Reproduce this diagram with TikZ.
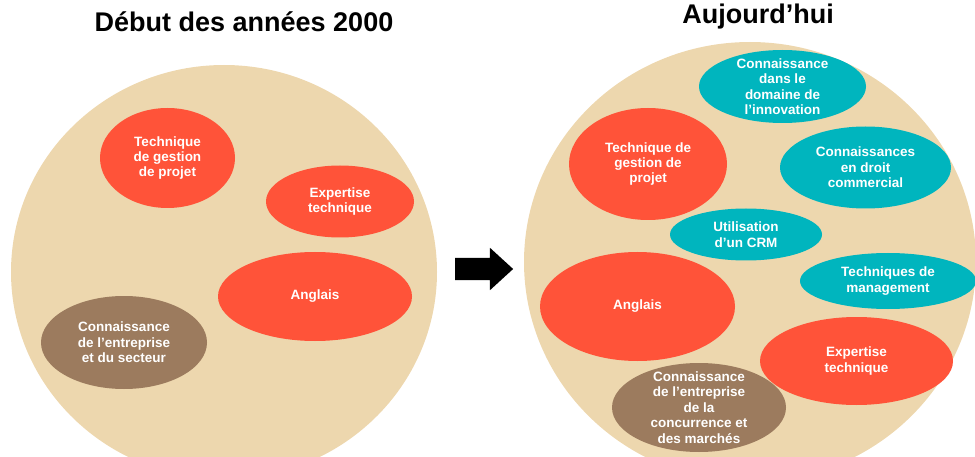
\documentclass[tikz,border=0pt]{standalone}
\usepackage{fontspec}
\setmainfont{Liberation Sans}
\usepackage{tikz}
\usetikzlibrary{shapes.geometric, shapes.arrows}
\usepackage{xcolor}
\definecolor{fondbeige}{RGB}{237,215,174}
\definecolor{rougeblob}{RGB}{255,83,57}
\definecolor{bleublob}{RGB}{0,181,190}
\definecolor{brunblob}{RGB}{156,123,94}
\tikzstyle{titre} = [font=\fontsize{27}{30}\selectfont\bfseries, anchor=base, inner sep=0pt]

\begin{document}
\begin{tikzpicture}[x=1pt, y=-1pt,
  fond/.style={ellipse, fill=fondbeige, inner sep=0pt},
  blob/.style={ellipse, inner sep=0pt, text=white, align=center, font=\fontsize{13.5}{15.4}\selectfont\bfseries},
  rouge/.style={blob, fill=rougeblob},
  bleu/.style={blob, fill=bleublob},
  brun/.style={blob, fill=brunblob},
  fleche/.style={single arrow, fill=black, inner xsep=0pt, inner ysep=11pt, minimum height=58pt, single arrow head extend=10pt, single arrow tip angle=85}]

  \useasboundingbox (0,0) rectangle (975,457);
  \clip (0,0) rectangle (975,457);

  % titres
  \node[titre] (t_avant) at (244, 32) {Début des années 2000};
  \node[titre] (t_apres) at (758, 24) {Aujourd’hui};

  % grands cercles
  \node[fond, minimum width=426pt, minimum height=414pt] (avant) at (224, 272) {};
  \node[fond, minimum width=452pt, minimum height=440pt] (apres) at (750, 262) {};

  \node[fleche] (passage) at (478, 269) {};

  % début des années 2000
  \node[rouge, minimum width=135pt, minimum height=100pt] (a_gestion) at (167.5, 158) {Technique\\de gestion\\de projet};
  \node[rouge, minimum width=148pt, minimum height=72pt] (a_expertise) at (340, 201.5) {Expertise\\technique};
  \node[rouge, minimum width=194pt, minimum height=89pt] (a_anglais) at (315, 296.5) {Anglais};
  \node[brun, minimum width=166pt, minimum height=93pt] (a_entreprise) at (124, 342.5) {Connaissance\\de l’entreprise\\et du secteur};

  % aujourd'hui
  \node[bleu, minimum width=167pt, minimum height=73pt, inner ysep=-8pt] (b_innovation) at (782.5, 86.5) {Connaissance\\dans le\\domaine de\\l’innovation};
  \node[rouge, minimum width=158pt, minimum height=112pt] (b_gestion) at (648, 164) {Technique de\\gestion de\\projet};
  \node[bleu, minimum width=171pt, minimum height=82pt] (b_droit) at (865.5, 167.5) {Connaissances\\en droit\\commercial};
  \node[bleu, minimum width=152pt, minimum height=52pt] (b_crm) at (746, 234.5) {Utilisation\\d’un CRM};
  \node[bleu, minimum width=176pt, minimum height=56pt] (b_management) at (888, 281) {Techniques de\\management};
  \node[rouge, minimum width=195pt, minimum height=109pt] (b_anglais) at (637.5, 306.5) {Anglais};
  \node[rouge, minimum width=193pt, minimum height=88pt] (b_expertise) at (856.5, 361) {Expertise\\technique};
  \node[brun, minimum width=174pt, minimum height=89pt, inner ysep=-8pt] (b_entreprise) at (699, 407.5) {Connaissance\\de l’entreprise\\de la\\concurrence et\\des marchés};
\end{tikzpicture}
\end{document}
